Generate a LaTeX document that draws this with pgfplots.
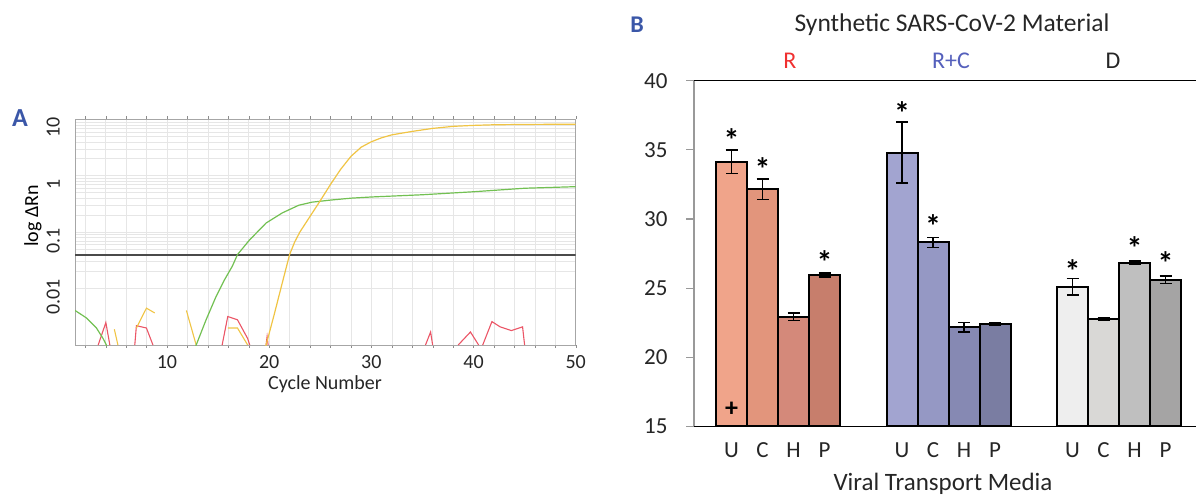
\documentclass[border=0pt]{standalone}
\usepackage{pgfplots}
\pgfplotsset{compat=1.18}
\usepackage{fontspec}
\setmainfont{Carlito}

\definecolor{gridc}{HTML}{E6E6E6}
\definecolor{qgreen}{HTML}{72C052}
\definecolor{qyellow}{HTML}{F0C444}
\definecolor{qred}{HTML}{EB5566}
\definecolor{thr}{HTML}{4A4A4A}
\definecolor{panelblue}{HTML}{3B57A8}
\definecolor{rU}{HTML}{F0A48A}
\definecolor{rC}{HTML}{E2957C}
\definecolor{rH}{HTML}{D4897A}
\definecolor{rP}{HTML}{C77E6C}
\definecolor{bU}{HTML}{A2A4D0}
\definecolor{bC}{HTML}{9598C4}
\definecolor{bH}{HTML}{8689B3}
\definecolor{bP}{HTML}{7A7DA2}
\definecolor{gU}{HTML}{EEEEEE}
\definecolor{gC}{HTML}{D9D8D6}
\definecolor{gH}{HTML}{BFBFBF}
\definecolor{gP}{HTML}{A5A4A4}
\definecolor{redlab}{HTML}{F03030}
\definecolor{bluelab}{HTML}{5560BC}

\pgfplotsset{
  mybar/.style={fill=#1, draw=black, line width=2bp,
    error bars/.cd, y dir=both, y explicit,
    error bar style={line width=1.6bp, black},
    error mark options={rotate=90, mark size=6bp, line width=1.6bp, black}},
}

\begin{document}
\begin{tikzpicture}
\useasboundingbox (0,0) rectangle (1196bp,497bp);

% ---------- panel A: amplification curves
\begin{axis}[
  name=A, at={(75bp,152bp)}, anchor=south west, scale only axis,
  width=500.7bp, height=225.7bp,
  xmin=1, xmax=50, ymode=log, ymin=0.001, ymax=10,
  xtick={10,20,30,40,50}, minor xtick={2,4,...,50},
  ytick={0.01,0.1,1,10}, yticklabels={},
  grid=both,
  major grid style={gridc, line width=0.6bp},
  minor grid style={gridc, line width=0.5bp},
  axis line style={black!35, line width=0.8bp},
  xtick style={black!45}, ytick style={draw=none},
  tick align=outside, major tick length=3bp, minor tick length=3bp,
  /pgf/number format/assume math mode=true,
  tick label style={font=\fontsize{20bp}{24bp}\selectfont, text=black!85},
  xticklabel style={yshift=-4bp},
  unbounded coords=jump,
]
\addplot[thr, line width=1.8bp] coordinates {(1,0.04) (50,0.04)};
% noise
\addplot[qred, line width=1.1bp] coordinates {
  (3.27,0.001) (4.02,0.0025) (4.41,0.001) (4.5,nan)
  (6.85,0.001) (7.01,0.0022) (7.99,0.0020) (8.63,0.001) (9,nan)
  (15.4,0.001) (15.95,0.0032) (16.9,0.0028) (17.9,0.0013) (18.1,0.001) (18.5,nan)
  (19.7,0.001) (19.8,0.0014) (19.9,0.001) (20,nan)
  (35.3,0.001) (35.8,0.0017) (36.0,0.001) (37,nan)
  (38.5,0.001) (39.7,0.0017) (40.5,0.001) (40.7,nan)
  (40.9,0.001) (41.8,0.0026) (42.6,0.0021) (43.7,0.0018) (44.8,0.0021) (45.0,0.001)
};
\addplot[qyellow, line width=1.1bp] coordinates {
  (4.85,0.0019) (5.2,0.001) (6,nan)
  (7.01,0.0020) (7.99,0.0045) (8.8,0.0037) (10,nan)
  (11.9,0.0041) (12.86,0.001) (13,nan)
  (15.95,0.0020) (16.9,0.0020) (17.9,0.001)
};
% green curve
\addplot[qgreen, line width=1.2bp] coordinates {
  (1,0.0041) (2.14,0.0030) (3.1,0.0020) (3.75,0.0013) (4.07,0.001) (4.3,0.0007)
  (8,nan)
  (12.6,0.0007) (12.86,0.001) (13.83,0.0028) (14.8,0.0072) (15.6,0.014) (16.4,0.025)
  (16.9,0.04) (18.06,0.072) (19.7,0.145) (21.3,0.22) (22.9,0.30) (24.2,0.34)
  (26,0.37) (28,0.40) (30,0.42) (35,0.46) (40,0.52) (45,0.60) (50,0.64)
};
% yellow curve
\addplot[qyellow, line width=1.2bp] coordinates {
  (19.5,0.0007) (19.7,0.001) (20.5,0.0035) (21.2,0.011) (22,0.04) (22.5,0.067)
  (23,0.10) (24,0.19) (25,0.36) (26,0.70) (27,1.3) (28,2.2) (29,3.2) (30,4.0)
  (31,4.7) (32,5.3) (34,6.1) (36,6.9) (38,7.5) (40,7.8) (42,8.0) (45,8.1) (50,8.2)
};
\coordinate (ya) at (axis cs:1,0.01);
\coordinate (yb) at (axis cs:1,0.1);
\coordinate (yc) at (axis cs:1,1);
\coordinate (yd) at (axis cs:1,10);
\end{axis}
% rotated y tick labels of panel A
\begin{scope}[every node/.style={rotate=90, anchor=south, inner sep=0pt,
    font=\fontsize{20bp}{24bp}\selectfont, text=black!85}]
\node at ([xshift=-15bp, yshift=-8.5bp]ya) {0.01};
\node at ([xshift=-15bp, yshift=-8.5bp]yb) {0.1};
\node at ([xshift=-15bp, yshift=-8.5bp]yc) {1};
\node at ([xshift=-15bp, yshift=-8.5bp]yd) {10};
\end{scope}
\node[rotate=90, font=\fontsize{20bp}{24bp}\selectfont] at (33bp,281bp) {log ΔRn};
\node[anchor=base, font=\fontsize{20bp}{24bp}\selectfont, text=black!85] at (325bp,107.7bp) {Cycle Number};
\node[anchor=base, font=\fontsize{26bp}{30bp}\selectfont\bfseries, text=panelblue] at (20bp,370.3bp) {A};

% ---------- panel B: Ct values
\begin{axis}[
  name=B, at={(694bp,70.5bp)}, anchor=south west, scale only axis,
  width=502bp, height=345.8bp,
  xmin=-1.21, xmax=14.98, ymin=15, ymax=40,
  ytick={15,20,...,40},
  xtick={0,1,2,3,5.5,6.5,7.5,8.5,11,12,13,14},
  xticklabels={U,C,H,P,U,C,H,P,U,C,H,P},
  axis line style={draw=none},
  ytick style={black!40, line width=1.2bp}, xtick style={draw=none},
  tick align=outside, major tick length=8bp,
  /pgf/number format/assume math mode=true,
  tick label style={font=\fontsize{23bp}{27bp}\selectfont, text=black!85},
  yticklabel style={xshift=-15bp},
  xticklabel style={yshift=-5bp},
  ybar, bar width=31bp, bar shift=0pt,
]
\addplot[mybar=rU] coordinates {(0,34.13) +- (0,0.85)};
\addplot[mybar=rC] coordinates {(1,32.16) +- (0,0.75)};
\addplot[mybar=rH] coordinates {(2,22.93) +- (0,0.27)};
\addplot[mybar=rP] coordinates {(3,25.96) +- (0,0.15)};
\addplot[mybar=bU] coordinates {(5.5,34.8) +- (0,2.2)};
\addplot[mybar=bC] coordinates {(6.5,28.31) +- (0,0.36)};
\addplot[mybar=bH] coordinates {(7.5,22.18) +- (0,0.35)};
\addplot[mybar=bP] coordinates {(8.5,22.42) +- (0,0.08)};
\addplot[mybar=gU] coordinates {(11,25.1) +- (0,0.6)};
\addplot[mybar=gC] coordinates {(12,22.76) +- (0,0.1)};
\addplot[mybar=gH] coordinates {(13,26.85) +- (0,0.1)};
\addplot[mybar=gP] coordinates {(14,25.62) +- (0,0.28)};
\begin{scope}[every node/.style={font=\fontsize{32bp}{36bp}\selectfont\bfseries, inner sep=0pt}]
\node at (axis cs:0,35.7) {*};
\node at (axis cs:1,33.6) {*};
\node at (axis cs:3,26.9) {*};
\node at (axis cs:5.5,37.65) {*};
\node at (axis cs:6.5,29.5) {*};
\node at (axis cs:11,26.25) {*};
\node at (axis cs:13,27.9) {*};
\node at (axis cs:14,26.8) {*};
\node[font=\fontsize{26bp}{30bp}\selectfont\bfseries] at (axis cs:0,16.24) {+};
\end{scope}
\end{axis}
\draw[black!40, line width=1.2bp] (B.south west) -- (B.north west);
\draw[black, line width=1.5bp] (B.north west) -- (B.north east);
\draw[black, line width=1.5bp] (B.south west) -- (B.south east);

\node[anchor=base, font=\fontsize{25.5bp}{30bp}\selectfont, text=black!85] at (952bp,465.3bp) {Synthetic SARS-CoV-2 Material};
\node[anchor=base, font=\fontsize{24bp}{28bp}\selectfont, text=redlab] at (790bp,428.7bp) {R};
\node[anchor=base, font=\fontsize{24bp}{28bp}\selectfont, text=bluelab] at (951bp,428.7bp) {R+C};
\node[anchor=base, font=\fontsize{24bp}{28bp}\selectfont, text=black!85] at (1113bp,428.7bp) {D};
\node[anchor=base, font=\fontsize{25bp}{30bp}\selectfont, text=black!85] at (943bp,6.5bp) {Viral Transport Media};
\node[anchor=base, font=\fontsize{24bp}{28bp}\selectfont\bfseries, text=panelblue] at (637bp,464.7bp) {B};
\end{tikzpicture}
\end{document}
